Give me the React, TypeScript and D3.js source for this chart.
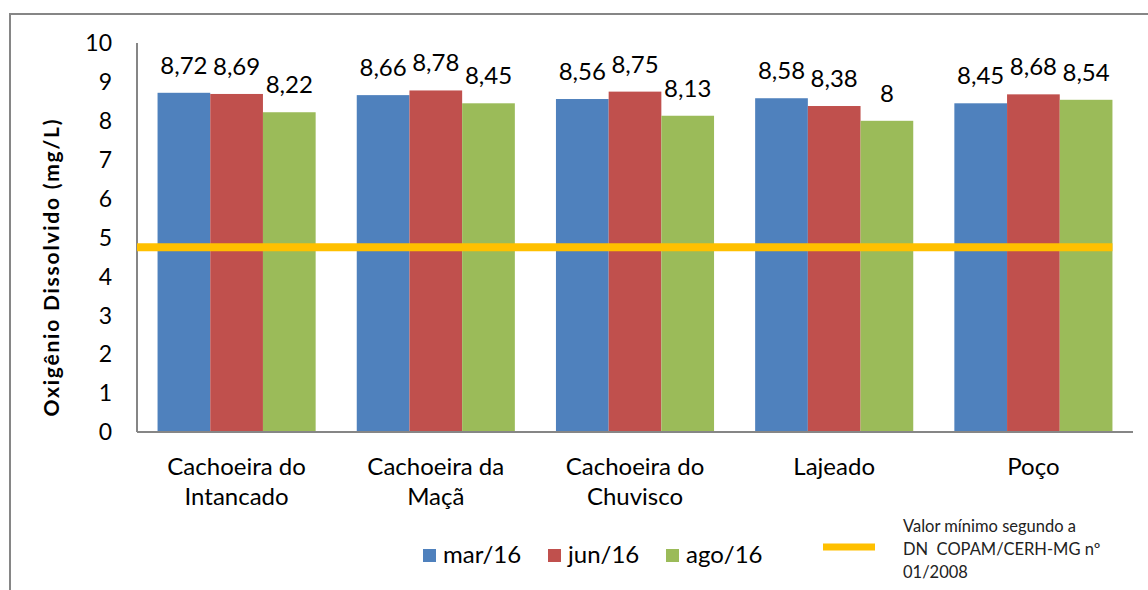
import React from "react";
import { scaleBand, scaleLinear } from "d3";

// sampling points
const categories = [
  "Cachoeira do\nIntancado",
  "Cachoeira da\nMaçã",
  "Cachoeira do\nChuvisco",
  "Lajeado",
  "Poço",
];
const seriesNames = ["mar/16", "jun/16", "ago/16"];
const mar16 = [8.72, 8.66, 8.56, 8.58, 8.45];
const jun16 = [8.69, 8.78, 8.75, 8.38, 8.68];
const ago16 = [8.22, 8.45, 8.13, 8.0, 8.54];
const yTicks = [0, 1, 2, 3, 4, 5, 6, 7, 8, 9, 10];
const limitValue = 4.75;
const limitLabel = ["Valor mínimo segundo a", "DN  COPAM/CERH-MG nº", "01/2008"];

const colors = ["#4F81BD", "#C0504D", "#9BBB59"];
const limitColor = "#FFC000";
const axisColor = "#868686";
const font = "Lato, 'Open Sans', sans-serif";

const W = 1148;
const H = 590;
const plot = { left: 137, right: 1133, top: 43, bottom: 432 };

const App = () => {
  const values = [mar16, jun16, ago16];

  const x = scaleBand<string>()
    .domain(categories)
    .range([plot.left, plot.right]);
  const xInner = scaleBand<string>()
    .domain(seriesNames)
    .range([0, x.bandwidth()])
    .paddingOuter(0.39);
  const y = scaleLinear().domain([0, 10]).range([plot.bottom, plot.top]);

  const lastBarEnd =
    (x(categories[categories.length - 1]) as number) +
    (xInner(seriesNames[seriesNames.length - 1]) as number) +
    xInner.bandwidth();

  const fmt = (v: number) => String(v).replace(".", ",");

  return (
    <svg
      width={W}
      height={H}
      style={{ position: "absolute", left: 0, top: 0, background: "#fff" }}
      fontFamily={font}
    >
      {/* chart frame */}
      <rect x={10} y={14} width={W + 20} height={H + 20} fill="none" stroke={axisColor} strokeWidth={2} />

      {/* y ticks */}
      {yTicks.map((t) => (
        <text key={t} x={112} y={y(t)} dy="0.36em" textAnchor="end" fontSize={23} fill="#000">
          {t}
        </text>
      ))}

      {/* bars */}
      {categories.map((c, i) => (
        <g key={c} transform={`translate(${x(c)},0)`}>
          {seriesNames.map((s, j) => (
            <g key={s}>
              <rect
                x={xInner(s)}
                y={y(values[j][i])}
                width={xInner.bandwidth()}
                height={y(0) - y(values[j][i])}
                fill={colors[j]}
              />
              <text
                x={(xInner(s) as number) + xInner.bandwidth() / 2}
                y={y(values[j][i]) - 19}
                textAnchor="middle"
                fontSize={24}
                fill="#000"
              >
                {fmt(values[j][i])}
              </text>
            </g>
          ))}
          {c.split("\n").map((line, k) => (
            <text
              key={k}
              x={x.bandwidth() / 2}
              y={475 + k * 30}
              textAnchor="middle"
              fontSize={24}
              fill="#000"
            >
              {line}
            </text>
          ))}
        </g>
      ))}

      {/* axes */}
      <line x1={plot.left} x2={plot.left} y1={plot.top} y2={plot.bottom} stroke={axisColor} strokeWidth={2} />
      <line x1={plot.left} x2={plot.right} y1={plot.bottom} y2={plot.bottom} stroke={axisColor} strokeWidth={2} />

      {/* minimum limit */}
      <line
        x1={plot.left}
        x2={lastBarEnd}
        y1={y(limitValue)}
        y2={y(limitValue)}
        stroke={limitColor}
        strokeWidth={8}
      />

      {/* y title */}
      <text
        transform="translate(59,268) rotate(-90)"
        textAnchor="middle"
        fontSize={21}
        fontWeight="bold"
        textLength={297}
        lengthAdjust="spacing"
        fill="#000"
      >
        Oxigênio Dissolvido (mg/L)
      </text>

      {/* legend */}
      {seriesNames.map((s, j) => {
        const lx = [423, 548, 666][j];
        return (
          <g key={s}>
            <rect x={lx} y={549} width={13} height={13} fill={colors[j]} />
            <text x={lx + 20} y={563} fontSize={24} fill="#000">
              {s}
            </text>
          </g>
        );
      })}
      <line x1={823} x2={875} y1={547} y2={547} stroke={limitColor} strokeWidth={7} />
      {limitLabel.map((l, k) => (
        <text
          key={k}
          x={903}
          y={532 + k * 23}
          fontSize={16.5}
          fill="#222"
          style={{ whiteSpace: "pre" }}
        >
          {l}
        </text>
      ))}
    </svg>
  );
};

export default App;
